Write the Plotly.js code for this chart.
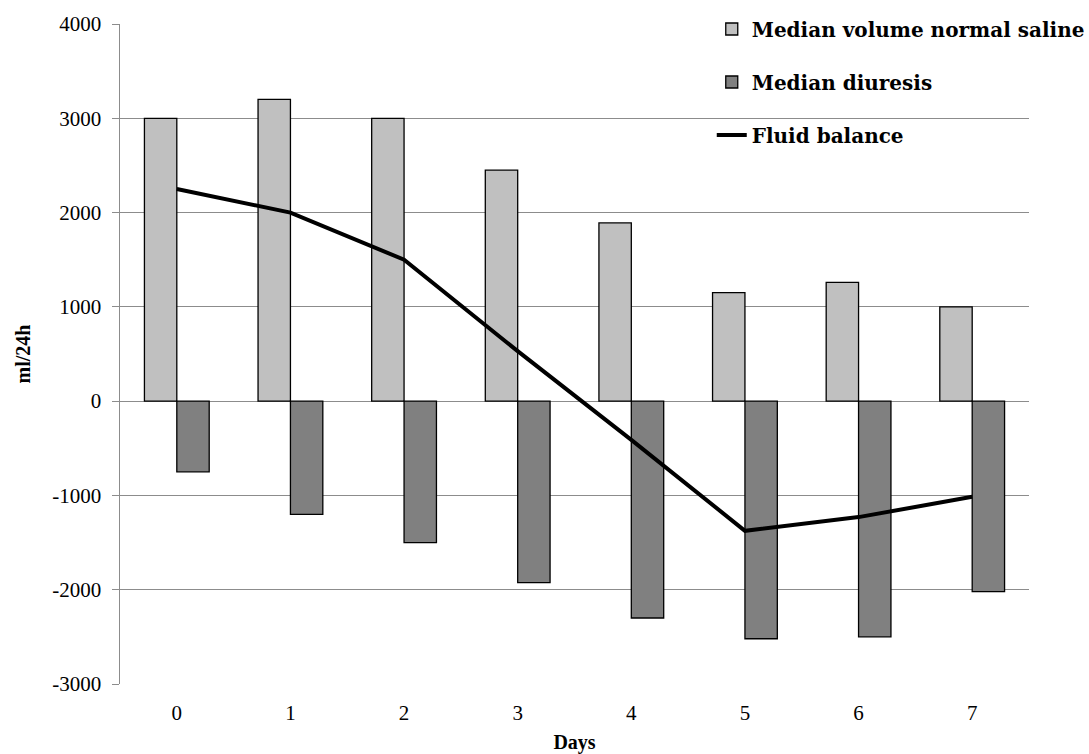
<!DOCTYPE html>
<html>
<head>
<meta charset="utf-8">
<script src="https://cdn.plot.ly/plotly-3.0.1.min.js"></script>
<style>html,body{margin:0;padding:0;background:#fff;}#chart{width:1089px;height:754px;}</style>
</head>
<body>
<div id="chart"></div>
<script>
const days = [0, 1, 2, 3, 4, 5, 6, 7];
const dayLabels = ['0', '1', '2', '3', '4', '5', '6', '7'];
const salineVolume = [3000, 3200, 3000, 2450, 1890, 1150, 1260, 1000];
const diuresis = [-750, -1200, -1500, -1925, -2300, -2520, -2500, -2020];
const fluidBalance = [2250, 2000, 1500, 530, -410, -1375, -1230, -1015];
const yTicks = [-3000, -2000, -1000, 0, 1000, 2000, 3000, 4000];
const yTickLabels = ['-3000', '-2000', '-1000', '0', '1000', '2000', '3000', '4000'];
const boundaryTicks = days.map(d => d - 0.5).concat([days[days.length - 1] + 0.5]);

const serif = '"Liberation Serif", "DejaVu Serif", serif';
const legendFont = '"DejaVu Serif", serif';
const gridCol = '#8c8c8c';

const traces = [
  {type: 'bar', name: 'Median volume normal saline', x: days, y: salineVolume,
   marker: {color: '#c0c0c0', line: {color: '#000', width: 1.3}}, legendgroup: 'a'},
  {type: 'bar', name: 'Median diuresis', x: days, y: diuresis,
   marker: {color: '#808080', line: {color: '#000', width: 1.3}}, legendgroup: 'b'},
  {type: 'scatter', mode: 'lines', name: 'Fluid balance', x: days, y: fluidBalance,
   line: {color: '#000', width: 4}, legendgroup: 'c'}
];

const layout = {
  width: 1089, height: 754,
  margin: {l: 120, r: 60, t: 24, b: 70, autoexpand: false},
  paper_bgcolor: '#fff', plot_bgcolor: '#fff',
  barmode: 'group', bargap: 0.43, bargroupgap: 0,
  showlegend: true,
  legend: {x: 0.651, xanchor: 'left', y: 1.022, yanchor: 'top',
           font: {family: legendFont, size: 20, color: '#000', weight: 'bold'},
           tracegroupgap: 24, traceorder: 'grouped', bgcolor: 'rgba(0,0,0,0)'},
  xaxis: {range: [-0.5, 7.5], tickmode: 'array', tickvals: days, ticktext: dayLabels,
          showgrid: false, zeroline: false, showline: false, ticks: '',
          ticklabelstandoff: 14,
          tickfont: {family: serif, size: 21, color: '#000'},
          title: {text: '<b>Days</b>', font: {family: serif, size: 20, color: '#000'}, standoff: 10}},
  xaxis2: {overlaying: 'x', anchor: 'free', position: 3/7, range: [-0.5, 7.5],
           tickmode: 'array', tickvals: boundaryTicks, showticklabels: false,
           ticks: 'outside', ticklen: 6, tickcolor: gridCol, tickwidth: 1.5,
           showline: true, linecolor: gridCol,
           linewidth: 1.5, showgrid: false, zeroline: false},
  yaxis: {range: [-3000, 4000], tickmode: 'array', tickvals: yTicks, ticktext: yTickLabels,
          showgrid: true, gridcolor: gridCol, gridwidth: 1, zeroline: false,
          showline: true, linecolor: gridCol, linewidth: 1.5,
          ticks: 'outside', ticklen: 7, tickcolor: gridCol,
          ticklabelstandoff: 6,
          tickfont: {family: serif, size: 21, color: '#000'},
          title: {text: '<b>ml/24h</b>', font: {family: serif, size: 20, color: '#000'}, standoff: 16}}
};

Plotly.newPlot('chart', traces, layout, {displayModeBar: false, staticPlot: true});
</script>
</body>
</html>
